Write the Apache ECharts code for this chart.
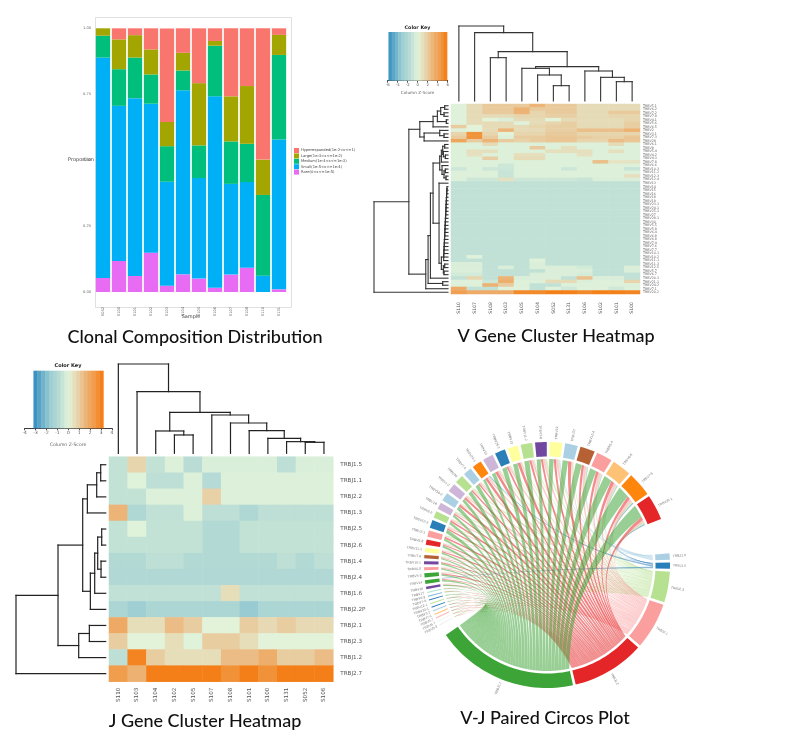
<!DOCTYPE html>
<html><head><meta charset="utf-8">
<style>html,body{margin:0;padding:0;background:#fff}#c{width:811px;height:744px;filter:blur(0.4px)}</style>
<script src="https://cdn.jsdelivr.net/npm/echarts@6/dist/echarts.min.js"></script>
</head><body><div id="c"></div>
<script>
/* ---------- Panel A: clonal composition ---------- */
const samplesA=['S052','S100','S101','S102','S103','S104','S105','S106','S107','S108','S110','S131'];
const hyper =[0,.043,.027,.080,.354,.094,.209,.048,.259,.219,.498,.025];
const large =[.028,.113,.085,.095,.092,.067,.236,.018,.171,.219,.134,.076];
const medium=[.083,.139,.154,.111,.135,.075,.124,.192,.161,.145,.306,.321];
const small =[.836,.588,.674,.565,.394,.698,.381,.726,.344,.325,.062,.568];
const rare  =[.053,.118,.061,.149,.024,.067,.051,.016,.066,.092,0,.010];
const cloneNames=['Hyperexpanded(1e-2<x<=1)','Large(1e-3<x<=1e-2)','Medium(1e-4<x<=1e-3)','Small(1e-5<x<=1e-4)','Rare(0<x<=1e-5)'];

/* ---------- Panel B: V gene heatmap ---------- */
const colsV=['S110','S107','S108','S103','S105','S104','S052','S131','S106','S102','S101','S100'];
const rowsV=['TRBV5.1','TRBV6.2','TRBV7.2','TRBV7.9','TRBV4.1','TRBV5.6','TRBV6.5','TRBV2','TRBV3.1','TRBV7.3','TRBV28','TRBV6.1','TRBV9','TRBV5.4','TRBV4.2','TRBV4.3','TRBV7.8','TRBV6.6','TRBV10.3','TRBV11.2','TRBV12.3','TRBV12.4','TRBV13','TRBV14','TRBV15','TRBV16','TRBV18','TRBV19','TRBV23.1','TRBV24.1','TRBV25.1','TRBV27','TRBV29.1','TRBV30','TRBV5.5','TRBV5.8','TRBV6.4','TRBV6.8','TRBV6.9','TRBV7.4','TRBV7.6','TRBV7.7','TRBV10.1','TRBV10.2','TRBV11.1','TRBV11.3','TRBV12.5','TRBV5.7','TRBV6.7','TRBV20.1','TRBV21.1','TRBV24.2','TRBV7.1','TRBV20.2'];
const flatV=[-1.2,-1.2,-1.2,-1.2,-1.2,-1.2,-1.2,-1.2,-1.2,-1.2,-1.2,-1.2];
const zV=[
[-.1,1.2,2,2,2,3,2,2,1.2,1.2,1.2,1.2],
[-.1,1.2,2,2,3.2,2,2,2,1.2,1.2,1.2,1.2],
[-.1,1.2,2,2,3,1.5,2,2,1.2,1.2,2,2],
[-.1,1.2,1.2,1.2,1.5,1.5,1.8,1.8,1.2,1.2,1.5,1.5],
[-.1,1.2,0,-.3,1.2,1.2,0,1.2,1.2,1.2,1.2,1.5],
[-.1,1.2,1.2,1.2,-.1,1.2,1.5,1.8,1.2,1.2,1.2,1.8],
[1.9,0,1.2,1.2,1.2,1.5,1.8,1.8,1.2,1.2,1.2,1.8],
[-.1,0,1.2,3,1.2,1.2,1.8,1.8,2.5,2.5,2.5,3.2],
[1.5,4.8,1.5,0,1.5,1.5,2,2,1.5,1.5,1.5,1.5],
[1.9,4.8,1.9,-.2,1.9,1.9,2.2,2.2,1.9,1.7,1.7,2.2],
[3.8,1.9,3,1.9,1.6,1.9,2.2,2.2,1.5,1.5,2.6,2.2],
[-.2,-.2,1.2,-.2,-.2,-.2,-.2,-.2,-.2,-.2,1.2,-.2],
[-.2,-.2,-.2,-.2,-.2,2,-.2,1,-.2,-.2,-.2,-.2],
[-.2,1,1,-.2,-.2,-.2,1,1,1,-.2,1,-.2],
[-.2,.9,-.2,-.2,1,1,-.2,-.2,.9,-.2,-.2,-.2],
[-.2,-.2,1.8,-.2,1.2,1.2,-.2,-.2,-.2,-.2,-.2,-.2],
[-.2,-.2,-.2,-.2,-.2,-.2,-.2,-.2,-.2,2.5,.8,.8],
[-.2,-.2,-.2,-.8,-.2,-.2,-.2,-.2,-.2,-.2,-.2,-.2],
[-.8,-.2,-.8,-.8,-.2,-.2,-.2,-.8,-.2,-.2,-.2,-1],
[-.2,-.2,-.2,-1,-.2,-.2,-.2,-.2,-.2,-.2,-.2,-.2],
[-.2,-.2,-.2,-1,-.2,-.2,-.2,-.2,-.2,-.2,-.2,1],
[-.2,-.8,-.8,.9,-.8,-.8,-.8,-.8,-1,-.3,-.3,-.3],
flatV,flatV,flatV,flatV,flatV,flatV,flatV,flatV,flatV,flatV,flatV,flatV,flatV,flatV,flatV,flatV,flatV,flatV,flatV,flatV,flatV,
[-1.2,-.1,-1.2,-1.2,-1.2,-1.2,-1.2,-1.2,-1.2,-1.2,-1.2,-1.2],
[-1.2,-1.2,-1.2,-1.2,-1.2,-.1,-1.2,-1.2,-1.2,-1.2,-1.2,-1.2],
[-.3,-.3,-1.2,-1.2,-1.2,-.3,-1.2,-1.2,-1.2,-1.2,-1.2,-1.2],
[-.3,-.3,-1.2,-.3,-1.2,-.3,-.3,-.3,-.6,-1.2,-1.2,-.3],
[-.3,-.3,-1.2,-1.2,-1.2,-1.2,-.3,-.3,-.3,-1.2,-1.2,-.3],
[-.6,-.6,-1.2,-1.2,-1.2,-.3,-.3,-.3,-.5,-1.2,-1.2,-1.2],
[-1.2,1.5,-1.2,3,-.3,-.3,-.3,-1.2,2.4,-.3,-.3,-1.2],
[-.1,-.1,-.8,3.3,-.2,-.2,1.2,1.2,-.3,-.2,-.2,1.5],
[-.2,-.2,3.2,1.9,-.2,-1.2,-1.2,-.2,-.2,-.2,-.2,-.2],
[3.5,-1.2,-1.2,-.1,-.1,-1.2,-.1,-.7,-.1,-.1,-.7,-.2],
[4.2,3.5,3.5,3.5,5.2,5.2,5.6,5.6,5.2,5.6,5.6,5.4]
];
/* dendrograms: [height, childA, childB]; a bare number is a leaf */
const colTreeV=[225,0,[205,1,[148,[130,2,3],[103,[98,4,[78,5,[46,6,7]]],[90,8,[71,9,[58,10,11]]]]]]];
const combV=[13,[12.5,[12,[11.5,[11,[10.5,[10,[9.5,[9,[8.5,[8,[7.5,[7,[6.5,[6,[5.5,[5,[4.5,[4,[3.5,[3,23,24],25],26],27],28],29],30],31],32],33],34],35],36],37],38],39],40],41],42],43],44];
const rowTreeV=[223,[118,
  [85,[45,[32,[22,[10,0,1],[12,2,3]],[5,4,5]],6],[72,[25,7,[12,8,9]],10]],
  [67,[60,[53,[45,[25,[20,[16,[10,11,12],[14,13,[8,14,15]]],16],[18,17,[12,[8,18,19],[6,20,21]]]],[27,22,[20,combV,[14,[10,45,46],[12,47,48]]]]],49],[16,50,51]],52]],53];
const keyTicksV=[-6,-4,-2,0,2,4,6];

/* ---------- Panel C: J gene heatmap ---------- */
const colsJ=['S110','S103','S104','S102','S105','S107','S108','S101','S100','S131','S052','S106'];
const rowsJ=['TRBJ1.5','TRBJ1.1','TRBJ2.2','TRBJ1.3','TRBJ2.5','TRBJ2.6','TRBJ1.4','TRBJ2.4','TRBJ1.6','TRBJ2.2P','TRBJ2.1','TRBJ2.3','TRBJ1.2','TRBJ2.7'];
const zJ=[
[-.6,.8,-.6,-.1,-.8,-.15,-.15,-.15,-.15,-.7,-.15,-.15],
[-.6,-.05,-.7,-.7,-.1,-.9,-.1,-.1,-.1,-.1,-.1,-.1],
[-.6,-.6,-.1,-.1,-.1,.9,-.1,-.1,-.1,-.1,-.1,-.1],
[1.6,-1.1,-.65,-.65,-.1,-.7,-.7,-1.1,-.7,-.7,-.7,-.7],
[-.6,-.05,-.6,-.6,-.6,-1,-1,-.6,-.6,-.6,-.6,-.6],
[-.6,-.6,-.6,-.6,-.6,-1,-1,-.6,-.6,-.6,-.6,-.6],
[-1,-1,-.7,-.7,-1,-1,-1,-1,-1,-.7,-1,-.7],
[-1.05,-1.05,-1.05,-1.05,-1.05,-1.05,-1.05,-1.05,-1.05,-1.05,-1.05,-1.05],
[-.65,-.65,-.65,-.65,-.65,-.65,.6,-.65,-.65,-.65,-.65,-.65],
[-1.2,-1.6,-1.2,-1.2,-1.2,-1.2,-1.2,-1.7,-1.2,-1.2,-1.2,-1.2],
[1.9,.6,.6,1.4,1,0,0,1,.7,1,.7,.7],
[1,0,0,.6,-.05,1,1,.6,0,0,0,0],
[-.7,2.9,1,.6,.6,.6,1.4,1.4,1.8,1,1,1.4],
[2.3,1.7,3,3,3,3,2.6,3,2.6,3,3,3]
];
const colTreeJ=[268,0,[185,1,[123,[67,2,[55,3,4]],[115,5,[91,6,[68,7,[45,8,[35,9,[33,10,11]]]]]]]]];
const rowTreeJ=[269,[143,[69,[55,[27,[15,0,1],2],3],[46,[33,[24,[12,4,5],[14,6,7]],8],9]],[81,[49,10,11],12]],13];
const keyTicksJ=[-4,-3,-2,-1,0,1,2,3,4];
const heatColors=['#2f8ac0','#6bafc9','#9fcfd3','#b9dcd5','#e2f3da','#e7d5ae','#ecb477','#f09a47','#f5760a'];

/* ---------- Panel D: V-J circos (order: clockwise from lower left) ---------- */
const vNames=['TRBV5-3','TRBV6-7','TRBV5-7','TRBV7-1','TRBV8-2','TRBV22-1','TRBV12-1','TRBV7-5','TRBV6-3','TRBV17','TRBV16','TRBV14','TRBV4-3','TRBV6-8','TRBV10-1','TRBV7-6','TRBV11-1','TRBV5-8','TRBV2-1','TRBV12-5','TRBV6-9','TRBV18','TRBV10-2','TRBV4-2','TRBV30','TRBV7-4','TRBV24-1','TRBV15','TRBV25-1','TRBV13','TRBV11-2','TRBV7-8','TRBV19','TRBV27','TRBV12-4','TRBV5-4','TRBV6-5','TRBV7-9','TRBV20-1'];
const vSizes=[.5,.5,.5,.5,.5,.5,.5,.5,.5,.5,1.2,1.8,2,1.5,1.5,1.6,2.2,2.5,3,3.8,3.2,3.2,4,4,4,4,4.5,5,5,5,5.5,5.5,6,6,7,7.5,9,11.5,12];
const vColors=['#eeeeee','#f2f2f2','#fbb4ae','#fdbf6f','#a6cee3','#1f78b4','#b2df8a','#1f78b4','#6baed6','#a6e3d0','#6a3d9a','#33a02c','#33a02c','#fb9a99','#6a3d9a','#b15928','#ffff99','#e31a1c','#fb9a99','#1f78b4','#b2df8a','#cab2d6','#a6cee3','#cab2d6','#b2df8a','#a6cee3','#ff7f00','#cab2d6','#1f78b4','#ffff99','#b2df8a','#6a3d9a','#ffff99','#a6cee3','#b15928','#fb9a99','#fdbf6f','#ff7f00','#e31a1c'];
const jNames=['TRBJ1.4','TRBJ1.6','TRBJ2.3','TRBJ2.1','TRBJ1.2','TRBJ2.7'];
const jSizes=[3,3,14.5,22,34.3,67.5];
const jColors=['#a6cee3','#1f78b4','#b2df8a','#fb9a99','#e31a1c','#33a02c'];
/* ribbon weights per V sector: to TRBJ1.4, 1.6, 2.3, 2.1, 1.2, 2.7 */
const vToJ=[
[0,0,2,3,1,4],[0,0,1,3,2,4],[0,0,1,2,3,4],[0,0,1,2,2,5],[0,0,1,1,3,5],[0,0,2,1,2,5],[0,0,1,2,2,5],[0,0,1,1,2,6],[0,0,1,2,2,5],[0,0,1,1,2,6],
[0,0,1,2,2,5],[0,1,1,1,2,5],[0,0,1,2,3,4],[0,0,1,2,2,5],[0,0,1,1,3,5],[0,0,2,2,2,4],[0,0,1,2,3,4],[0,0,1,2,2,5],[0,0,2,1,3,4],[0,0,1,2,2,5],
[0,0,1,2,3,4],[0,0,2,2,2,4],[0,0,1,1,3,5],[0,0,1,2,3,4],[0,0,2,1,2,5],[0,0,1,2,2,5],[0,1,1,2,3,3],[0,0,1,2,3,4],[0,0,1,2,2,5],[0,0,1,1,3,5],
[0,0,1,2,2,5],[0,0,2,2,2,4],[1,0,1,2,2,4],[0,0,1,1,3,5],[.2,.2,1,2,2,5],[.2,.2,1,2,2,5],[.2,.2,1,1.5,2,5],[.2,.4,1,1.5,1.5,6],[.4,.4,1,1,1.5,6]
];

/* layout constants */
const GROUP={vEnd:68,jStart:84.5,gapV:1.3,gapJ:1.3};
function mod360(a){return ((a%360)+360)%360;}
function layoutSectors(sizes,gap){let p=0;return sizes.map(s=>{const r=[p,p+s];p+=s+gap;return r;});}
const vSpan=layoutSectors(vSizes,GROUP.gapV);
const vOff=GROUP.vEnd-vSpan[vSpan.length-1][1];
const vArc=vSpan.map(a=>[a[0]+vOff,a[1]+vOff]);
const jArc=layoutSectors(jSizes,GROUP.gapJ).map(a=>[a[0]+GROUP.jStart,a[1]+GROUP.jStart]);
const sectorRows=[];
vArc.forEach((a,i)=>sectorRows.push([0,0,a[0],a[1],i,0]));
jArc.forEach((a,i)=>sectorRows.push([0,0,a[0],a[1],i,1]));
function ribbons(){
  const colSum=jNames.map((_,j)=>vToJ.reduce((s,r)=>s+r[j],0));
  const jw=jNames.map((_,j)=>jSizes[j]/colSum[j]);
  const byV={};
  vToJ.forEach((row,i)=>{
    const sum=row.reduce((s,x)=>s+x,0);let p=vArc[i][0];
    for(let j=row.length-1;j>=0;j--){const w=row[j]/sum*vSizes[i];if(w>0){byV[i+'_'+j]=[p,p+w];p+=w;}}
  });
  const out=[];
  const jp=jArc.map(a=>a[0]);
  for(let i=vToJ.length-1;i>=0;i--){
    vToJ[i].forEach((v,j)=>{ if(v>0){const b0=jp[j],b1=b0+v*jw[j];jp[j]=b1;const a=byV[i+'_'+j];out.push([0,0,a[0],a[1],b0,b1,j]);}});
  }
  const order=[2,0,1,3,4,5];
  return out.sort((p,q)=>order.indexOf(p[6])-order.indexOf(q[6]));
}
const RING={outer:123,inner:108.5,chord:106,label:126,pull:.38};
function arcPts(api,r,a0,a1,n){const pts=[];for(let k=0;k<=n;k++){const c=api.coord([r,mod360(a0+(a1-a0)*k/n)]);pts.push([c[0],c[1]]);}return pts;}
function quad(p0,c,p1,n){const pts=[];for(let k=1;k<n;k++){const t=k/n,u=1-t;pts.push([u*u*p0[0]+2*u*t*c[0]+t*t*p1[0],u*u*p0[1]+2*u*t*c[1]+t*t*p1[1]]);}return pts;}
function ctrl(cen,p,q){return [cen[0]+RING.pull*((p[0]+q[0])/2-cen[0]),cen[1]+RING.pull*((p[1]+q[1])/2-cen[1])];}
function renderRibbon(params,api){
  const a0=api.value(2),a1=api.value(3),b0=api.value(4),b1=api.value(5),j=api.value(6);
  const cen=api.coord([0,0]);
  const A=arcPts(api,RING.chord,a0,a1,6),B=arcPts(api,RING.chord,b0,b1,Math.max(6,Math.ceil((b1-b0)/2)));
  const e1=A[A.length-1],s2=B[0],e2=B[B.length-1],s1=A[0];
  const pts=A.concat(quad(e1,ctrl(cen,e1,s2),s2,26),B,quad(e2,ctrl(cen,e2,s1),s1,26));
  return {type:'polygon',shape:{points:pts},style:{fill:jColors[j],opacity:.5}};
}
function renderSector(params,api){
  const a0=api.value(2),a1=api.value(3),i=api.value(4),isJ=api.value(5);
  const n=Math.max(4,Math.ceil((a1-a0)/2));
  const pts=arcPts(api,RING.outer,a0,a1,n).concat(arcPts(api,RING.inner,a1,a0,n));
  const mid=(a0+a1)/2,m=mod360(mid);
  const right=m<180;
  const lp=api.coord([RING.label,m]);
  const rot=(right?90-m:270-m)*Math.PI/180;
  return {type:'group',children:[
    {type:'polygon',shape:{points:pts},style:{fill:isJ?jColors[i]:vColors[i],opacity:.95}},
    {type:'text',x:lp[0],y:lp[1],rotation:rot,style:{text:isJ?jNames[i]:vNames[i],fontSize:3.4,fill:'#777',align:right?'left':'right',verticalAlign:'middle'}}
  ]};
}

/* ---------- helpers ---------- */
function dendro(tree,horizontal){
  const segs=[];
  (function walk(n){
    if(typeof n==='number') return [n+.5,0];
    const a=walk(n[1]),b=walk(n[2]),h=n[0];
    segs.push([a[0],a[1],a[0],h],[b[0],b[1],b[0],h],[a[0],h,b[0],h]);
    return [(a[0]+b[0])/2,h];
  })(tree);
  return segs.map(s=>horizontal?[s[1],s[0],s[3],s[2]]:s);
}
function heatData(m){const d=[];m.forEach((r,y)=>r.forEach((v,x)=>d.push([x,y,v])));return d;}
function keyBands(lo,hi,n){const d=[];for(let i=0;i<n;i++){const a=lo+(hi-lo)*i/n,b=lo+(hi-lo)*(i+1)/n;d.push([a,b,(a+b)/2]);}return d;}
const none={show:false};
function hiddenAxis(extra){return Object.assign({show:false,type:'value'},extra);}
function dendroSeries(x,y,data,color,w){return {type:'custom',xAxisIndex:x,yAxisIndex:y,data:data,silent:true,encode:{x:0,y:1},
  renderItem:(p,api)=>{const a=api.coord([api.value(0),api.value(1)]),b=api.coord([api.value(2),api.value(3)]);
    return {type:'line',shape:{x1:a[0],y1:a[1],x2:b[0],y2:b[1]},style:{stroke:color,lineWidth:w,lineCap:'square'}};}};}
function keySeries(x,y,data){return {type:'custom',xAxisIndex:x,yAxisIndex:y,data:data,silent:true,encode:{x:0},
  renderItem:(p,api)=>{const a=api.coord([api.value(0),1]),b=api.coord([api.value(1),0]);
    return {type:'rect',shape:{x:a[0],y:a[1],width:b[0]-a[0]+.4,height:b[1]-a[1]},style:{fill:api.visual('color')}};}};}
const keyAxis=(lo,hi,ticks,fs)=>({type:'value',min:lo,max:hi,interval:(ticks[1]-ticks[0]),axisLine:{show:true,onZero:false,lineStyle:{color:'#222',width:.9}},axisTick:{length:2,lineStyle:{color:'#222',width:.8}},axisLabel:{fontSize:fs,color:'#555',margin:2.5,fontFamily:'DejaVu Sans'},splitLine:none});

const titleFont={fontFamily:'Lato',fontSize:18,fontWeight:500,color:'#111'};
const T=(text,x,y,style)=>({text:text,left:x,top:y,textAlign:'center',padding:0,textStyle:style});
const smallBold={fontFamily:'DejaVu Sans',fontSize:4.8,fontWeight:'bold',color:'#222'};
const smallGrey={fontFamily:'DejaVu Sans',fontSize:4.2,color:'#666',fontWeight:'normal'};

const option={
  backgroundColor:'#fff',animation:false,
  title:[
    T('Clonal Composition Distribution',195,328,titleFont),
    T('V Gene Cluster Heatmap',556,327,titleFont),
    T('J Gene Cluster Heatmap',205,712,titleFont),
    T('V-J Paired Circos Plot',545,709,titleFont),
    T('Color Key',417.5,25,smallBold),
    T('Column Z-Score',417.5,91,smallGrey),
    T('Color Key',68,363,Object.assign({},smallBold,{fontSize:5})),
    T('Column Z-Score',68,442,Object.assign({},smallGrey,{fontSize:4.6})),
    {text:'Sample',left:191,top:314,textAlign:'center',padding:0,textStyle:{fontSize:5,color:'#444',fontWeight:'normal',fontFamily:'DejaVu Sans'}},
    {text:'Proportion',left:81,top:160,textAlign:'center',textVerticalAlign:'middle',padding:0,textStyle:{fontSize:5,color:'#444',fontWeight:'normal',fontFamily:'DejaVu Sans',rotate:90}}
  ],
  legend:{left:294,top:148,padding:0,orient:'vertical',itemWidth:5,itemHeight:5,itemGap:.4,icon:'rect',data:cloneNames,
    textStyle:{fontSize:3.7,color:'#444',padding:[0,0,0,-3],fontFamily:'DejaVu Sans'}},
  graphic:[{type:'rect',left:93,top:15,shape:{width:196,height:290},style:{fill:'none',stroke:'#d8d8d8',lineWidth:.8},silent:true,z:-1}],
  grid:[
    {left:95,top:28.3,width:192,height:263.7},
    {left:451,top:104,width:189,height:190},
    {left:451,top:26,width:189,height:75},
    {left:374,top:104,width:74,height:190},
    {left:387.7,top:32,width:60,height:48.7},
    {left:109,top:456.7,width:224.3,height:225},
    {left:109,top:364,width:224.3,height:89.3},
    {left:16,top:456.7,width:89.7,height:225},
    {left:24.7,top:370.7,width:87.3,height:57.6}
  ],
  xAxis:[
    {gridIndex:0,type:'category',data:samplesA,axisLine:none,axisTick:none,axisLabel:{rotate:90,fontSize:3.6,color:'#666',margin:15,interval:0,fontFamily:'DejaVu Sans'}},
    {gridIndex:1,type:'category',data:colsV,axisLine:none,axisTick:none,axisLabel:{rotate:90,fontSize:4.6,color:'#555',margin:8,interval:0,fontFamily:'DejaVu Sans'}},
    hiddenAxis({gridIndex:2,min:0,max:12}),
    hiddenAxis({gridIndex:3,min:0,max:223,inverse:true}),
    Object.assign({gridIndex:4},keyAxis(-6,6,keyTicksV,3.8)),
    {gridIndex:5,type:'category',data:colsJ,axisLine:none,axisTick:none,axisLabel:{rotate:90,fontSize:5.6,color:'#555',margin:6,interval:0,fontFamily:'DejaVu Sans'}},
    hiddenAxis({gridIndex:6,min:0,max:12}),
    hiddenAxis({gridIndex:7,min:0,max:269,inverse:true}),
    Object.assign({gridIndex:8},keyAxis(-4,4,keyTicksJ,4.4))
  ],
  yAxis:[
    {gridIndex:0,type:'value',min:0,max:1,interval:.25,axisLine:none,axisTick:none,splitLine:none,axisLabel:{fontSize:3.6,color:'#666',margin:4,formatter:v=>v.toFixed(2),fontFamily:'DejaVu Sans'}},
    {gridIndex:1,type:'category',data:rowsV,inverse:true,position:'right',axisLine:none,axisTick:none,axisLabel:{fontSize:3.3,color:'#666',margin:3,interval:0,fontFamily:'DejaVu Sans'}},
    hiddenAxis({gridIndex:2,min:0,max:225}),
    hiddenAxis({gridIndex:3,min:0,max:54,inverse:true}),
    hiddenAxis({gridIndex:4,min:0,max:1}),
    {gridIndex:5,type:'category',data:rowsJ,inverse:true,position:'right',axisLine:none,axisTick:none,axisLabel:{fontSize:5.6,color:'#555',margin:7,interval:0,fontFamily:'DejaVu Sans'}},
    hiddenAxis({gridIndex:6,min:0,max:268}),
    hiddenAxis({gridIndex:7,min:0,max:14,inverse:true}),
    hiddenAxis({gridIndex:8,min:0,max:1})
  ],
  polar:{center:[547,565],radius:RING.outer},
  angleAxis:{type:'value',min:0,max:360,startAngle:90,clockwise:true,show:false},
  radiusAxis:{type:'value',min:0,max:RING.outer,show:false},
  visualMap:[
    {show:false,min:-6,max:6,dimension:2,seriesIndex:[5,8],inRange:{color:heatColors}},
    {show:false,min:-3.2,max:3.2,dimension:2,seriesIndex:[9,12],inRange:{color:heatColors}}
  ],
  series:[
    {name:cloneNames[4],type:'bar',stack:'c',barWidth:14.3,xAxisIndex:0,yAxisIndex:0,data:rare,itemStyle:{color:'#E76BF3'}},
    {name:cloneNames[3],type:'bar',stack:'c',barWidth:14.3,xAxisIndex:0,yAxisIndex:0,data:small,itemStyle:{color:'#00B0F6'}},
    {name:cloneNames[2],type:'bar',stack:'c',barWidth:14.3,xAxisIndex:0,yAxisIndex:0,data:medium,itemStyle:{color:'#00BF7D'}},
    {name:cloneNames[1],type:'bar',stack:'c',barWidth:14.3,xAxisIndex:0,yAxisIndex:0,data:large,itemStyle:{color:'#A3A500'}},
    {name:cloneNames[0],type:'bar',stack:'c',barWidth:14.3,xAxisIndex:0,yAxisIndex:0,data:hyper,itemStyle:{color:'#F8766D'}},
    {type:'heatmap',xAxisIndex:1,yAxisIndex:1,data:heatData(zV),silent:true},
    dendroSeries(2,2,dendro(colTreeV,false),'#333',1.1),
    dendroSeries(3,3,dendro(rowTreeV,true),'#333',1.1),
    keySeries(4,4,keyBands(-5.85,5.85,18)),
    {type:'heatmap',xAxisIndex:5,yAxisIndex:5,data:heatData(zJ),silent:true},
    dendroSeries(6,6,dendro(colTreeJ,false),'#222',1.2),
    dendroSeries(7,7,dendro(rowTreeJ,true),'#222',1.2),
    keySeries(8,8,keyBands(-3.2,3.2,18)),
    {type:'custom',coordinateSystem:'polar',data:ribbons(),renderItem:renderRibbon,silent:true,encode:{radius:0,angle:1}},
    {type:'custom',coordinateSystem:'polar',data:sectorRows,renderItem:renderSector,silent:true,encode:{radius:0,angle:1}}
  ]
};
echarts.init(document.getElementById('c'),null,{renderer:'canvas'}).setOption(option);
</script></body></html>
